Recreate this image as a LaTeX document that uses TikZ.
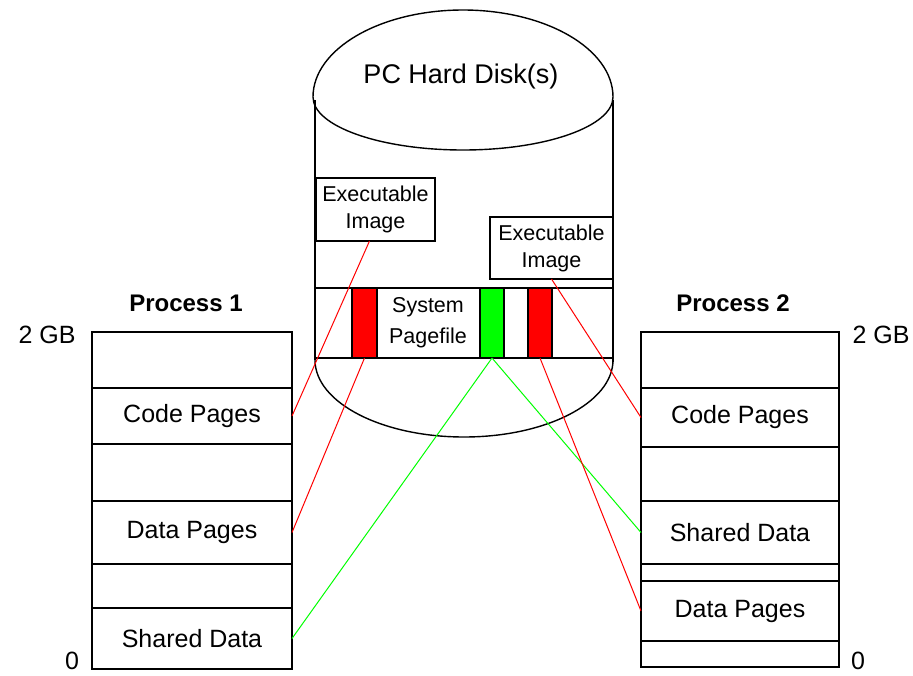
\documentclass[tikz,border=0pt]{standalone}
\usepackage{fontspec}
\setmainfont{Liberation Sans}
\begin{document}
\begin{tikzpicture}[x=1pt,y=1pt,
  box/.style={draw=black, line width=1.4pt, rectangle, inner sep=0pt, outer sep=0pt, fill=white},
  lbl/.style={font=\fontsize{25}{30}\selectfont},
  small/.style={font=\fontsize{21.5}{27}\selectfont, align=center},
  proc/.style={font=\fontsize{24}{28}\selectfont\bfseries},
  redline/.style={draw=red, line width=1pt},
  greenline/.style={draw=green, line width=1pt},
  cyl/.style={draw=black, line width=1.4pt}]
\useasboundingbox (0,0) rectangle (913,-675);
\clip (0,0) rectangle (913,-675);
\fill[white] (0,0) rectangle (913,-675);
% cylinder
\draw[cyl] (313,-97) arc[start angle=180, end angle=0, x radius=150pt, y radius=87pt];
\draw[cyl] (313,-97) arc[start angle=180, end angle=360, x radius=150pt, y radius=53pt];
\draw[cyl] (315,-100) -- (315,-360);
\draw[cyl] (613,-100) -- (613,-362);
\draw[cyl] (315,-360) arc[start angle=180, end angle=360, x radius=149pt, y radius=77pt];
\node[lbl, font=\fontsize{27}{32}\selectfont] (disk) at (461,-77) {PC Hard Disk(s)};
% executable images
\node[box, minimum width=119pt, minimum height=63pt] (e1) at (375.5,-209.5) {};
\node[small] at (e1.center) {Executable\\Image};
\node[box, minimum width=123pt, minimum height=62pt] (e2) at (551.5,-248) {};
\node[small] at (e2.center) {Executable\\Image};
% pagefile
\node[box, minimum width=298pt, minimum height=70pt] (pf) at (464,-323) {};
\node[box, fill=red, minimum width=25pt, minimum height=70pt] (r1) at (364.5,-323) {};
\node[box, fill=green, minimum width=24pt, minimum height=70pt] (g1) at (492,-323) {};
\node[box, fill=red, minimum width=24pt, minimum height=70pt] (r2) at (540,-323) {};
\node[small, font=\fontsize{21.5}{31}\selectfont] (pft) at (428,-323) {System\\Pagefile};
% process 1
\node[proc] (p1t) at (186,-303) {Process 1};
\node[lbl] (p1top) at (47,-335) {2 GB};
\node[lbl, anchor=south] (p1zero) at (72,-673) {0};
\node[box, minimum width=200pt, minimum height=56pt, anchor=north west] (p1a) at (92,-332) {};
\node[box, lbl, minimum width=200pt, minimum height=56pt, anchor=north west] (p1code) at (92,-388) {Code Pages};
\node[box, minimum width=200pt, minimum height=57pt, anchor=north west] (p1b) at (92,-444) {};
\node[box, lbl, minimum width=200pt, minimum height=63pt, anchor=north west] (p1data) at (92,-501) {Data Pages};
\node[box, minimum width=200pt, minimum height=44pt, anchor=north west] (p1c) at (92,-564) {};
\node[box, lbl, minimum width=200pt, minimum height=61pt, anchor=north west] (p1shared) at (92,-608) {Shared Data};
% process 2
\node[proc] (p2t) at (733,-303) {Process 2};
\node[lbl] (p2top) at (881,-335) {2 GB};
\node[lbl, anchor=south] (p2zero) at (858,-673) {0};
\node[box, minimum width=198pt, minimum height=56pt, anchor=north west] (p2a) at (641,-332) {};
\node[box, lbl, minimum width=198pt, minimum height=59pt, anchor=north west] (p2code) at (641,-388) {Code Pages};
\node[box, minimum width=198pt, minimum height=54pt, anchor=north west] (p2b) at (641,-447) {};
\node[box, lbl, minimum width=198pt, minimum height=63pt, anchor=north west] (p2shared) at (641,-501) {Shared Data};
\node[box, minimum width=198pt, minimum height=17pt, anchor=north west] (p2c) at (641,-564) {};
\node[box, lbl, minimum width=198pt, minimum height=60pt, anchor=north west] (p2data) at (641,-581) {Data Pages};
\node[box, minimum width=198pt, minimum height=26pt, anchor=north west] (p2d) at (641,-641) {};
% connectors
\draw[redline] ([xshift=-6pt]e1.south) -- (p1code.east);
\draw[redline] (r1.south) -- (p1data.east);
\draw[greenline] (g1.south) -- (p1shared.east);
\draw[greenline] (g1.south) -- (p2shared.west);
\draw[redline] (r2.south) -- (p2data.west);
\draw[redline] (e2.south) -- (p2code.west);
\end{tikzpicture}
\end{document}
